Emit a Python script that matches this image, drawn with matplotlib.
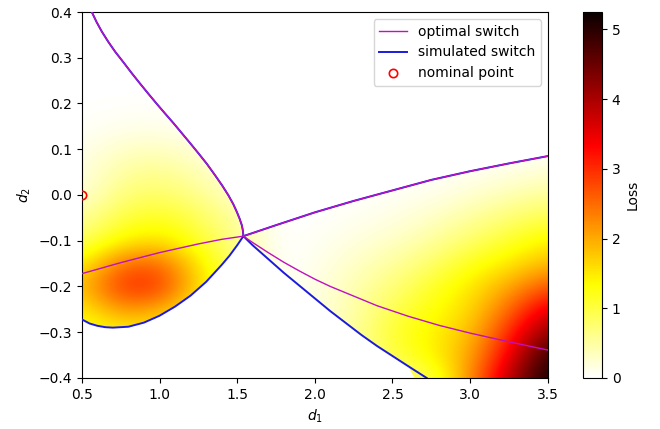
import numpy as np
import matplotlib

matplotlib.use("Agg")
import matplotlib.pyplot as plt
from matplotlib.patches import Polygon

# grid of the loss field (rows: d2 from -0.40 up to 0.40)
d1_grid = [0.5, 0.75, 1.0, 1.25, 1.5, 1.75, 2.0, 2.25, 2.5, 2.75, 3.0, 3.25, 3.5]
d2_grid = [-0.40, -0.35, -0.30, -0.25, -0.20, -0.15, -0.10, -0.05, 0.00,
           0.05, 0.10, 0.15, 0.20, 0.25, 0.30, 0.35, 0.40]
loss = [
    [1.0, 1.1, 1.1, 1.0, 0.6, 0.30, 0.30, 0.40, 0.60, 0.9, 2.2, 3.9, 5.25],
    [1.1, 1.2, 1.2, 1.1, 0.7, 0.20, 0.25, 0.40, 1.00, 1.4, 2.0, 3.4, 5.0],
    [1.2, 1.4, 1.4, 1.2, 0.8, 0.10, 0.20, 0.50, 1.10, 1.4, 1.8, 3.0, 4.3],
    [1.4, 2.2, 2.0, 1.3, 0.8, 0.05, 0.15, 0.45, 0.90, 1.3, 1.6, 2.5, 3.6],
    [1.8, 3.0, 3.0, 1.6, 0.9, 0.02, 0.15, 0.40, 0.70, 1.1, 1.5, 2.0, 2.7],
    [1.4, 2.5, 2.6, 1.5, 0.8, 0.00, 0.10, 0.30, 0.50, 0.8, 1.2, 1.5, 1.9],
    [0.8, 1.4, 1.6, 1.1, 0.6, 0.00, 0.07, 0.17, 0.30, 0.5, 0.8, 1.1, 1.45],
    [0.5, 1.0, 1.2, 0.9, 0.5, 0.00, 0.03, 0.08, 0.15, 0.3, 0.5, 0.75, 0.95],
    [0.2, 0.7, 0.85, 0.6, 0.3, 0.00, 0.00, 0.03, 0.06, 0.12, 0.25, 0.4, 0.55],
    [0.15, 0.5, 0.6, 0.4, 0.15, 0.0, 0.0, 0.0, 0.0, 0.02, 0.08, 0.15, 0.25],
    [0.1, 0.3, 0.35, 0.2, 0.0, 0.0, 0.0, 0.0, 0.0, 0.0, 0.0, 0.0, 0.0],
    [0.04, 0.1, 0.12, 0.05, 0.0, 0.0, 0.0, 0.0, 0.0, 0.0, 0.0, 0.0, 0.0],
    [0.02, 0.03, 0.04, 0.0, 0.0, 0.0, 0.0, 0.0, 0.0, 0.0, 0.0, 0.0, 0.0],
    [0.0] * 13,
    [0.0] * 13,
    [0.0] * 13,
    [0.0] * 13,
]

# switching curves (d1, d2)
upper_left = [(0.564, 0.400), (0.595, 0.378), (0.629, 0.357), (0.670, 0.335),
              (0.715, 0.313), (0.768, 0.290), (0.822, 0.266), (0.876, 0.243),
              (0.929, 0.221), (0.983, 0.199), (1.036, 0.178), (1.090, 0.157),
              (1.144, 0.135), (1.198, 0.113), (1.251, 0.091), (1.305, 0.068),
              (1.358, 0.043), (1.405, 0.020), (1.444, -0.001), (1.475, -0.020),
              (1.498, -0.037), (1.516, -0.052), (1.530, -0.066), (1.537, -0.078),
              (1.54, -0.09)]
upper_right = [(1.54, -0.09), (1.75, -0.066), (2.00, -0.038), (2.25, -0.013),
               (2.50, 0.010), (2.75, 0.033), (3.00, 0.052), (3.25, 0.069), (3.50, 0.085)]
opt_lower_left = [(0.50, -0.172), (0.75, -0.148), (1.00, -0.126), (1.25, -0.107),
                  (1.40, -0.097), (1.54, -0.09)]
opt_lower_right = [(1.54, -0.090), (1.60, -0.104), (1.70, -0.126), (1.80, -0.147),
                   (1.90, -0.166), (2.00, -0.184), (2.10, -0.200), (2.25, -0.221),
                   (2.40, -0.242), (2.60, -0.265), (2.80, -0.285), (3.00, -0.302),
                   (3.25, -0.321), (3.50, -0.339)]
sim_lower_left = [(0.50, -0.272), (0.55, -0.281), (0.60, -0.286), (0.65, -0.289),
                  (0.70, -0.290), (0.80, -0.288), (0.90, -0.279), (1.00, -0.264),
                  (1.10, -0.244), (1.20, -0.220), (1.30, -0.190), (1.40, -0.153),
                  (1.45, -0.133), (1.50, -0.110), (1.54, -0.090)]
sim_lower_right = [(1.54, -0.090), (1.60, -0.110), (1.70, -0.140), (1.80, -0.170),
                   (1.90, -0.198), (2.00, -0.226), (2.10, -0.254), (2.20, -0.280),
                   (2.30, -0.306), (2.40, -0.330), (2.50, -0.352), (2.60, -0.374),
                   (2.72, -0.400)]
nominal = (0.5, 0.0)

fig = plt.figure(figsize=(6.6, 4.29), dpi=100)
ax = fig.add_axes([0.124, 0.119, 0.706, 0.853])
cax = fig.add_axes([0.883, 0.119, 0.029, 0.853])

step1 = d1_grid[1] - d1_grid[0]
step2 = d2_grid[1] - d2_grid[0]
extent = [d1_grid[0] - step1 / 2, d1_grid[-1] + step1 / 2,
          d2_grid[0] - step2 / 2, d2_grid[-1] + step2 / 2]
im = ax.imshow(np.array(loss), origin="lower", extent=extent, aspect="auto",
               cmap="hot_r", vmin=0, vmax=5.25, interpolation="bicubic", zorder=1)

# region where the loss is non-zero, bounded by the simulated switch
ul = np.array(upper_left)
ur = np.array(upper_right)
sll = np.array(sim_lower_left)
slr = np.array(sim_lower_right)
verts = np.vstack([[(0.4, 0.45), (ul[0, 0], 0.45)], ul, ur[1:], [(3.6, ur[-1, 1]), (3.6, -0.45)],
                   [(slr[-1, 0], -0.45)], slr[::-1][1:], sll[::-1][1:], [(0.4, sll[0, 1])]])
clip = Polygon(verts, closed=True, transform=ax.transData, facecolor="none", edgecolor="none")
im.set_clip_path(clip)

for i, seg in enumerate([upper_left, upper_right, sim_lower_left, sim_lower_right]):
    seg = np.array(seg)
    ax.plot(seg[:, 0], seg[:, 1], color="#1a1ae0", lw=1.4, zorder=3,
            label="simulated switch" if i == 0 else None)
for i, seg in enumerate([upper_left, upper_right, opt_lower_left, opt_lower_right]):
    seg = np.array(seg)
    ax.plot(seg[:, 0], seg[:, 1], color="#c010c0", lw=1.0, zorder=4,
            label="optimal switch" if i == 0 else None)
ax.plot([nominal[0]], [nominal[1]], "o", mfc="none", mec="red", ms=6, mew=1.2,
        zorder=5, label="nominal point")

h, l = ax.get_legend_handles_labels()
order = [l.index("optimal switch"), l.index("simulated switch"), l.index("nominal point")]
ax.legend([h[k] for k in order], [l[k] for k in order], loc="upper right", fontsize=10)

ax.set_xlim(0.5, 3.5)
ax.set_ylim(-0.4, 0.4)
ax.set_xticks([0.5, 1.0, 1.5, 2.0, 2.5, 3.0, 3.5])
ax.set_yticks(np.round(np.arange(-0.4, 0.41, 0.1), 1))
ax.set_xlabel("$d_1$")
ax.set_ylabel("$d_2$")

cb = fig.colorbar(im, cax=cax)
cb.set_label("Loss")
cb.set_ticks([0, 1, 2, 3, 4, 5])

fig.savefig("out.png", dpi=100)
